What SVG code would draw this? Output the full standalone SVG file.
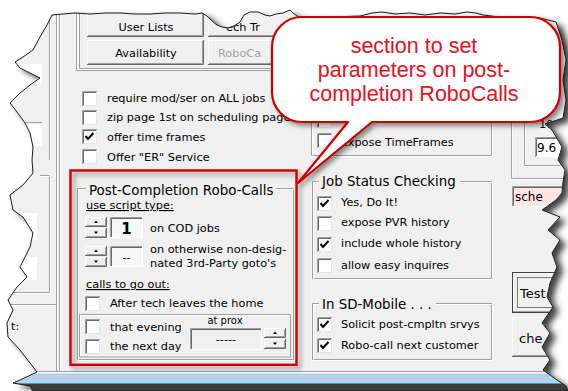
<svg xmlns="http://www.w3.org/2000/svg" width="568" height="391" viewBox="0 0 568 391">
<defs>
<style>
.ui{font-family:"DejaVu Sans",Verdana,sans-serif;font-size:11.3px;fill:#000}
.sm{font-family:"DejaVu Sans",Verdana,sans-serif;font-size:10px;fill:#000}
.ttl{font-family:"DejaVu Sans",Verdana,sans-serif;font-size:13.4px;fill:#000}
.big{font-family:"DejaVu Sans",Verdana,sans-serif;font-size:13px;fill:#000}
.mid{text-anchor:middle}
.dis{fill:#a0a0a0}
.u{text-decoration:underline}
.eg{fill:none;stroke:#a0a0a0}
.ew{fill:none;stroke:#fff}
.sh{fill:none;stroke:#696969}
.callout{font-family:"Liberation Sans",Arial,sans-serif;font-size:21.5px;fill:#e8101e;text-anchor:middle}
</style>
<clipPath id="torn">
<polygon points="52,15 62,14 75,13 90,14 105,13 120,13 135,14 150,14 165,13 180,13 195,14 202,13 207,16 212,21 217,25 222,27 228,28 234,26 240,22 244,15 250,12 258,12 265,15 270,16 276,14 283,13 290,10 294,14 300,18 330,17 360,16 372,13 382,12 395,14 410,13 425,15 440,13 455,14 467,12 476,13 483,15 500,17 540,18 556,22 562,40 566,60 563,80 566,100 563,118 551,122 545,124 552,130 558,140 562,147 558,160 565,170 563,182 562,193 556,200 542,210 560,217 548,230 560,240 552,253 557,267 550,283 547,297 553,307 542,323 550,333 542,347 550,360 543,370 557,380 566,386 568,391 33,391 30,386 13,383 20,380 37,372 30,363 20,350 8,337 7,323 13,310 8,300 17,287 27,277 20,267 30,247 33,233 23,217 13,210 10,195 23,185 33,173 32,160 33,147 30,133 25,123 17,112 10,103 20,93 30,85 40,78 30,73 20,68 15,62 23,57 33,50 40,37 47,25"/>
</clipPath>
<filter id="tornShadow" x="-0.05" y="-0.05" width="1.15" height="1.15">
<feGaussianBlur in="SourceAlpha" stdDeviation="3"/>
<feOffset dx="6" dy="4" result="b"/>
<feFlood flood-color="#2a2a2a" flood-opacity="0.9"/>
<feComposite in2="b" operator="in"/>
<feMerge><feMergeNode/><feMergeNode in="SourceGraphic"/></feMerge>
</filter>
<filter id="softShadow" x="-0.1" y="-0.1" width="1.25" height="1.3">
<feGaussianBlur in="SourceAlpha" stdDeviation="2.5"/>
<feOffset dx="3" dy="3" result="b"/>
<feFlood flood-color="#000" flood-opacity="0.45"/>
<feComposite in2="b" operator="in"/>
<feMerge><feMergeNode/><feMergeNode in="SourceGraphic"/></feMerge>
</filter>
<!-- classic sunken checkbox -->
<g id="cb">
<rect width="15" height="15" fill="#fff"/>
<path d="M0.5,15 V0.5 H15" stroke="#a0a0a0" fill="none"/>
<path d="M1.5,14 V1.5 H14" stroke="#696969" fill="none"/>
<path d="M1,14.5 H14.5 V1" stroke="#e3e3e3" fill="none"/>
</g>
<path id="tick" d="M3.5,7 L6,10 L11.5,4" fill="none" stroke="#000" stroke-width="2"/>
<!-- up/down spinner buttons -->
<g id="spin">
<rect width="22" height="21" fill="#f0f0f0"/>
<path d="M0.5,10 V0.5 H21" class="ew"/>
<path d="M0,9.5 H21.5 V0" class="sh"/>
<path d="M1.5,8.5 H20.5 V1.5" class="eg"/>
<path d="M0.5,21 V11.5 H21" class="ew"/>
<path d="M0,20.5 H21.5 V11" class="sh"/>
<path d="M1.5,19.5 H20.5 V12.5" class="eg"/>
<path d="M11,3.5 L13,6 H9 Z" fill="#000"/>
<path d="M9,14.5 H13 L11,17 Z" fill="#000"/>
</g>
</defs>

<rect width="568" height="391" fill="#fff"/>

<!-- torn screenshot backdrop with its shadow -->
<polygon filter="url(#tornShadow)" fill="#f0f0f0" points="52,15 62,14 75,13 90,14 105,13 120,13 135,14 150,14 165,13 180,13 195,14 202,13 207,16 212,21 217,25 222,27 228,28 234,26 240,22 244,15 250,12 258,12 265,15 270,16 276,14 283,13 290,10 294,14 300,18 330,17 360,16 372,13 382,12 395,14 410,13 425,15 440,13 455,14 467,12 476,13 483,15 500,17 540,18 556,22 562,40 566,60 563,80 566,100 563,118 551,122 545,124 552,130 558,140 562,147 558,160 565,170 563,182 562,193 556,200 542,210 560,217 548,230 560,240 552,253 557,267 550,283 547,297 553,307 542,323 550,333 542,347 550,360 543,370 557,380 566,386 568,391 33,391 30,386 13,383 20,380 37,372 30,363 20,350 8,337 7,323 13,310 8,300 17,287 27,277 20,267 30,247 33,233 23,217 13,210 10,195 23,185 33,173 32,160 33,147 30,133 25,123 17,112 10,103 20,93 30,85 40,78 30,73 20,68 15,62 23,57 33,50 40,37 47,25"/>

<g id="screen" clip-path="url(#torn)">
<rect width="568" height="391" fill="#f0f0f0"/>

<!-- left panel -->
<g id="left-panel">
<rect x="15" y="64" width="27" height="20" fill="#fff"/>
<rect x="15" y="124" width="27" height="22" fill="#fff"/>
<path d="M15,122.5 H42" class="eg"/>
<path d="M49.5,0 V160 M40,175.5 H49.5 V292.5 H0" class="eg"/>
<path d="M50.5,0 V160 M40,176.5 H50.5 V293.5 H0" class="ew"/>
<rect x="15" y="213" width="22" height="27" fill="#fff"/>
<rect x="15" y="257" width="22" height="23" fill="#fff"/>
<path d="M0,304.5 H57" class="eg"/>
<path d="M0,305.5 H57" class="ew"/>
<text class="ui" x="11" y="330">t:</text>
</g>

<!-- main panel borders -->
<path d="M56.5,0 V372 M59.5,0 V372" class="eg"/>
<path d="M57.5,0 V372 M60.5,0 V372" class="ew"/>
<path d="M76.5,0 V70.5 H300 M79.5,0 V68.5 H300" class="eg"/>
<path d="M77.5,0 V69.5 H300" class="ew"/>

<!-- page buttons -->
<g id="buttons">
<g id="btn-user-lists">
<rect x="87" y="12" width="117" height="25" fill="#f0f0f0"/>
<path d="M87.5,36 V12.5 H203" class="ew"/>
<path d="M87,36.5 H203.5 V12" class="sh"/>
<path d="M88,35.5 H202.5 V13" class="eg"/>
<text class="ui mid" x="146" y="31">User Lists</text>
</g>
<g id="btn-availability">
<rect x="87" y="40" width="117" height="25" fill="#f0f0f0"/>
<path d="M87.5,64 V40.5 H203" class="ew"/>
<path d="M87,64.5 H203.5 V40" class="sh"/>
<path d="M88,63.5 H202.5 V41" class="eg"/>
<text class="ui mid" x="146" y="56.5">Availability</text>
</g>
<g id="btn-tech">
<rect x="208" y="12" width="100" height="25" fill="#f0f0f0"/>
<path d="M208.5,36 V12.5 H308" class="ew"/>
<path d="M208,36.5 H308" class="sh"/>
<path d="M209,35.5 H308" class="eg"/>
<text class="ui" x="226" y="31">ech Tr</text>
</g>
<g id="btn-robocall">
<rect x="208" y="40" width="100" height="25" fill="#f0f0f0"/>
<path d="M208.5,64 V40.5 H308" class="ew"/>
<path d="M208,64.5 H308" class="sh"/>
<path d="M209,63.5 H308" class="eg"/>
<text class="ui dis" x="218" y="56.5">RoboCa</text>
</g>
</g>

<!-- general options -->
<g id="options">
<use href="#cb" x="82" y="91"/>
<use href="#cb" x="82" y="110"/>
<use href="#cb" x="82" y="129"/>
<use href="#tick" x="82" y="129"/>
<use href="#cb" x="82" y="149"/>
<text class="ui" x="107" y="102">require mod/ser on ALL jobs</text>
<text class="ui" x="107" y="121">zip page 1st on scheduling page</text>
<text class="ui" x="107" y="141">offer time frames</text>
<text class="ui" x="107" y="161">Offer "ER" Service</text>
</g>

<!-- post-completion robo-calls group -->
<g id="post-completion">
<path d="M86,188.5 H77.5 V359.5 H293.5 V188.5 H276" class="eg"/>
<path d="M86,189.5 H78.5 V360.5 H294.5 V189.5 H276" class="ew"/>
<text class="ttl" x="89" y="194.5">Post-Completion Robo-Calls</text>
<text class="ui u" x="86" y="209">use script type:</text>
<use href="#spin" x="85" y="217"/>
<rect x="110" y="217" width="33" height="21" fill="#f7f7f7"/>
<path d="M110.5,238 V217.5 H143" class="eg"/>
<path d="M111.5,237 V218.5 H142" class="sh"/>
<path d="M110,237.5 H142.5 V217" class="ew"/>
<text class="ui mid" x="126.5" y="234" style="font-size:15px;font-weight:bold">1</text>
<text class="ui" x="150" y="232">on COD jobs</text>
<use href="#spin" x="85" y="246"/>
<rect x="110" y="246" width="33" height="21" fill="#f7f7f7"/>
<path d="M110.5,267 V246.5 H143" class="eg"/>
<path d="M111.5,266 V247.5 H142" class="sh"/>
<path d="M110,266.5 H142.5 V246" class="ew"/>
<text class="ui mid" x="126.5" y="261">--</text>
<text class="ui" x="150" y="253">on otherwise non-desig-</text>
<text class="ui" x="150" y="267">nated 3rd-Party goto's</text>
<text class="ui u" x="86" y="288">calls to go out:</text>
<use href="#cb" x="85" y="296"/>
<text class="ui" x="110" y="307">After tech leaves the home</text>
<path d="M79.5,357 V314.5 H290.5 V357 H79.5" class="eg"/>
<path d="M80.5,356 V315.5 H289.5" class="ew"/>
<use href="#cb" x="85" y="319"/>
<use href="#cb" x="85" y="339"/>
<text class="ui" x="110" y="331">that evening</text>
<text class="ui" x="110" y="350">the next day</text>
<text class="sm mid" x="225" y="324">at prox</text>
<rect x="190" y="328" width="72" height="22" fill="#f0f0f0"/>
<path d="M190.5,350 V328.5 H262" class="eg"/>
<path d="M191.5,349 V329.5 H261" class="sh"/>
<path d="M190,349.5 H261.5 V328" class="ew"/>
<text class="ui mid" x="226" y="343">-----</text>
<use href="#spin" x="264" y="328"/>
</g>

<!-- middle column, upper group -->
<g id="timeframes">
<path d="M311.5,100 V155.5 H491.5 V100" class="eg"/>
<path d="M312.5,100 V154.5 M311,156.5 H492.5 V100" class="ew"/>
<use href="#cb" x="317" y="113"/>
<use href="#cb" x="317" y="133"/>
<text class="ui" x="341" y="146">expose TimeFrames</text>
</g>

<!-- job status checking group -->
<g id="job-status">
<path d="M319,181.5 H312.5 V278.5 H491.5 V181.5 H460" class="eg"/>
<path d="M319,182.5 H313.5 V279.5 H492.5 V182.5 H460" class="ew"/>
<text class="ttl" x="322" y="186">Job Status Checking</text>
<use href="#cb" x="317" y="196"/>
<use href="#tick" x="317" y="196"/>
<use href="#cb" x="317" y="216"/>
<use href="#cb" x="317" y="237"/>
<use href="#tick" x="317" y="237"/>
<use href="#cb" x="317" y="258"/>
<text class="ui" x="341" y="206">Yes, Do It!</text>
<text class="ui" x="341" y="226">expose PVR history</text>
<text class="ui" x="341" y="247">include whole history</text>
<text class="ui" x="341" y="269">allow easy inquires</text>
</g>

<!-- SD-Mobile group -->
<g id="sd-mobile">
<path d="M319,303.5 H312.5 V359.5 H491.5 V303.5 H436" class="eg"/>
<path d="M319,304.5 H313.5 V360.5 H492.5 V304.5 H436" class="ew"/>
<text class="ttl" x="322" y="308.5">In SD-Mobile . . .</text>
<use href="#cb" x="317" y="317"/>
<use href="#tick" x="317" y="317"/>
<use href="#cb" x="317" y="338"/>
<use href="#tick" x="317" y="338"/>
<text class="ui" x="341" y="328">Solicit post-cmpltn srvys</text>
<text class="ui" x="341" y="349">Robo-call next customer</text>
</g>

<!-- right column -->
<g id="right-column">
<path d="M511.5,110 V178.5 H570 M524.5,110 V165.5 H570" class="eg"/>
<path d="M512.5,110 V177.5 M525.5,110 V164.5 M525,166.5 H570 M512,179.5 H570" class="ew"/>
<text class="ui" x="539" y="128">10</text>
<rect x="535" y="137" width="40" height="20" fill="#fff"/>
<path d="M535.5,157 V137.5 H575" class="eg"/>
<path d="M536.5,156 V138.5 H575" class="sh"/>
<text class="ui" x="537" y="152" style="font-size:12px">9.6</text>
<rect x="512" y="186" width="63" height="21" fill="#ffe4e4"/>
<path d="M512.5,207 V186.5 H575" class="eg"/>
<path d="M513.5,206 V187.5 H575" class="sh"/>
<path d="M512,206.5 H575" class="ew"/>
<text class="ui" x="515" y="201" style="font-size:12px">sche</text>
<g id="btn-test">
<rect x="512.5" y="272.5" width="62" height="40" fill="#f0f0f0" stroke="#404040"/>
<path d="M513.5,311 V273.5 H574" class="ew"/>
<path d="M513,311.5 H574" class="eg"/>
<rect x="517.5" y="277.5" width="55" height="30" fill="none" stroke="#000" stroke-dasharray="1 1"/>
<text class="big" x="520" y="298">Test D</text>
</g>
<g id="btn-che">
<rect x="512" y="317" width="63" height="40" fill="#f0f0f0"/>
<path d="M512.5,357 V317.5 H575" class="ew"/>
<path d="M512,356.5 H575" class="sh"/>
<path d="M513,355.5 H575" class="eg"/>
<text class="big" x="519" y="343">che</text>
</g>
</g>

<!-- window bottom edge -->
<path d="M0,371.5 H568" class="eg"/>
<path d="M0,372.5 H568" class="ew"/>
<rect x="0" y="373.5" width="568" height="9.5" fill="#b9d1ea"/>
<path d="M0,383.5 H568" stroke="#2aa5d5"/>
<rect x="0" y="384" width="568" height="7" fill="#3c3c3c"/>
</g>

<!-- torn outline -->
<polygon fill="none" stroke="#1a1a1a" stroke-width="1" points="52,15 62,14 75,13 90,14 105,13 120,13 135,14 150,14 165,13 180,13 195,14 202,13 207,16 212,21 217,25 222,27 228,28 234,26 240,22 244,15 250,12 258,12 265,15 270,16 276,14 283,13 290,10 294,14 300,18 330,17 360,16 372,13 382,12 395,14 410,13 425,15 440,13 455,14 467,12 476,13 483,15 500,17 540,18 556,22 562,40 566,60 563,80 566,100 563,118 551,122 545,124 552,130 558,140 562,147 558,160 565,170 563,182 562,193 556,200 542,210 560,217 548,230 560,240 552,253 557,267 550,283 547,297 553,307 542,323 550,333 542,347 550,360 543,370 557,380 566,386 568,391 33,391 30,386 13,383 20,380 37,372 30,363 20,350 8,337 7,323 13,310 8,300 17,287 27,277 20,267 30,247 33,233 23,217 13,210 10,195 23,185 33,173 32,160 33,147 30,133 25,123 17,112 10,103 20,93 30,85 40,78 30,73 20,68 15,62 23,57 33,50 40,37 47,25"/>

<!-- highlight frame around the post-completion group -->
<rect id="highlight" x="70.5" y="170.5" width="226" height="194.3" fill="none" stroke="#cc0000" stroke-width="2.4" filter="url(#softShadow)"/>

<!-- callout bubble -->
<g id="callout">
<path d="M302,17 H530 A30,30 0 0 1 560,47 V92 A30,30 0 0 1 530,122 H372 L298,183 L348,122 H302 A30,30 0 0 1 272,92 V47 A30,30 0 0 1 302,17 Z" fill="#fff" stroke="#cc0000" stroke-width="2.2" stroke-linejoin="round" filter="url(#softShadow)"/>
<text class="callout" x="414" y="52.5">section to set</text>
<text class="callout" x="414" y="76.5">parameters on post-</text>
<text class="callout" x="414" y="100.5">completion RoboCalls</text>
</g>
</svg>
